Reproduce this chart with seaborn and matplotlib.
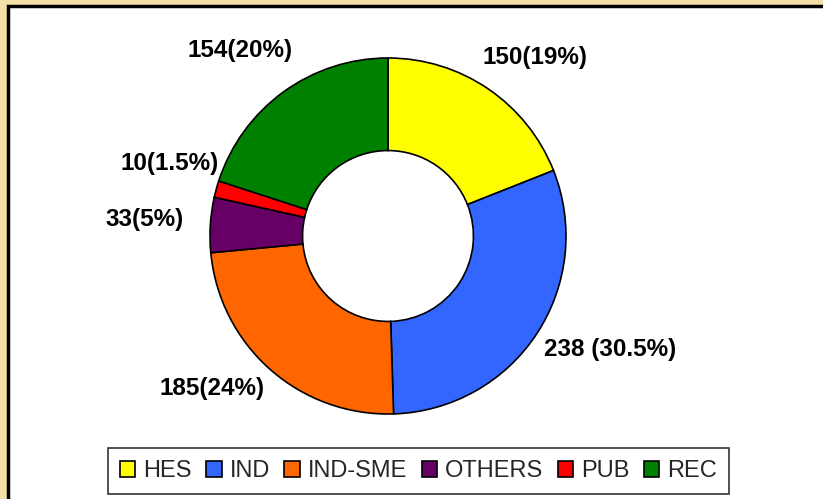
import matplotlib
matplotlib.use("Agg")
import matplotlib.pyplot as plt
from matplotlib.patches import Rectangle, Patch
from matplotlib import font_manager
import numpy as np
import seaborn as sns

categories = ["HES", "IND", "IND-SME", "OTHERS", "PUB", "REC"]
counts = [150, 238, 185, 33, 10, 154]
percents = [19, 30.5, 24, 5, 1.5, 20]
labels = [f"{c}({p:g}%)" if i != 1 else f"{c} ({p:g}%)" for i, (c, p) in enumerate(zip(counts, percents))]
colors = ["#FFFF00", "#3366FF", "#FF6600", "#660066", "#FF0000", "#008000"]
# label nudges in pixels (dx, dy up)
nudges = [(17, -13), (29, 14), (-23, 21), (-12, 2), (5, 11), (-12, -2)]

sns.set_style("white")
plt.rcParams["font.family"] = ["Liberation Sans", "DejaVu Sans"]

available = {f.name for f in font_manager.fontManager.ttflist}
narrow = "Liberation Sans Narrow" in available
leg_family = ["Liberation Sans Narrow", "Liberation Sans"] if narrow else ["Liberation Sans"]
leg_size = 15.5 if narrow else 17

W, H = 823, 499
fig = plt.figure(figsize=(W / 100, H / 100), dpi=100)
fig.patch.set_facecolor("#F2E0A8")

# white panel with black border
panel = Rectangle((8 / W, -0.1), 1.2, 1 - 6 / H + 0.1, transform=fig.transFigure,
                  facecolor="white", edgecolor="black", linewidth=2.5, zorder=-10)
fig.patches.append(panel)

cx, cy, R = 388, 236, 178
size = 3 * R
ax = fig.add_axes([(cx - size / 2) / W, (H - cy - size / 2) / H, size / W, size / H])
ax.set_facecolor("none")
ax.axis("off")

wedges, _ = ax.pie(percents, colors=colors, startangle=90, counterclock=False, radius=1,
                   wedgeprops=dict(width=0.52, edgecolor="black", linewidth=1.2))
ax.set_xlim(-1.5, 1.5)
ax.set_ylim(-1.5, 1.5)
ax.set_aspect("equal")

for w, lab, (dx, dy) in zip(wedges, labels, nudges):
    ang = np.deg2rad((w.theta1 + w.theta2) / 2)
    x, y = 1.3 * np.cos(ang), 1.3 * np.sin(ang)
    ax.annotate(lab, xy=(x, y), xytext=(dx * 0.72, dy * 0.72), textcoords="offset points",
                ha="center", va="center", fontsize=17.5, fontweight="bold",
                family=["Liberation Sans", "DejaVu Sans"], color="black")

handles = [Patch(facecolor=c, edgecolor="black", linewidth=1.2) for c in colors]
leg = fig.legend(handles, categories, loc="center", ncol=6,
                 bbox_to_anchor=((104 + 733) / 2 / W, 1 - 471 / H),
                 prop=dict(family=leg_family, size=leg_size),
                 frameon=True, fancybox=False, edgecolor="black",
                 handlelength=0.65, handleheight=0.65, handletextpad=0.35,
                 columnspacing=0.6, borderpad=0.5, borderaxespad=0)
leg.get_frame().set_linewidth(1.2)

fig.savefig("out.png", dpi=100, facecolor=fig.get_facecolor())
